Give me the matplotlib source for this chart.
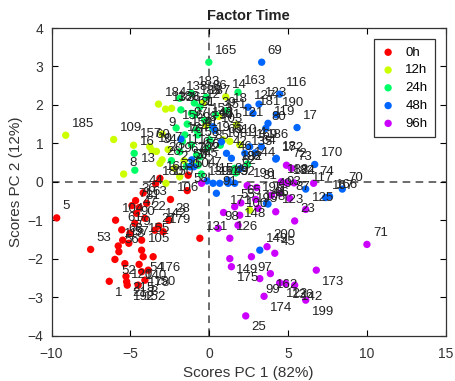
import matplotlib
matplotlib.use('Agg')
import matplotlib.pyplot as plt

plt.rcParams['font.family'] = ['Liberation Sans', 'DejaVu Sans']

# groups and R rainbow(5) colours
groups = ['0h', '12h', '24h', '48h', '96h']
colors = ['#FF0000', '#CCFF00', '#00FF66', '#0066FF', '#CC00FF']

# scores (PC1, PC2) and sample labels
x_0h = [-9.67, -7.52, -5.94, -4.67, -4.19, -3.97, -4.44, -4.61, -4.72, -4.08, -5.03, -3.45, -2.92,
        -5.49, -5.77, -5.73, -5.98, -5.35, -5.28, -5.24, -5.20, -6.34, -4.51, -4.08, -4.29, -4.29,
        -3.56, -4.19, -4.29, -3.87, -2.46, -1.34, -1.40, -3.13, -3.40, -0.60, -3.20, -4.90, -5.55,
        -2.56, -4.45, -5.10]
y_0h = [-0.94, -1.76, -1.00, -0.49, -0.29, -0.56, -0.67, -0.82, -1.08, -0.95, -1.34, -1.26, -1.30,
        -1.52, -1.67, -1.82, -2.02, -2.13, -2.46, -2.60, -2.69, -2.59, -2.69, -2.56, -1.52, -1.78,
        -1.95, -1.95, -2.34, -2.30, -0.46, 0.17, -0.23, 0.09, -0.05, -1.47, -1.15, -0.62, -1.25,
        -1.00, -2.15, -1.60]
lab_0h = ['5', '53', '104', '36', '44', '63', '81', '47', '90', '22', '79', '27', '179',
          '68', '118', '56', '52', '120', '215', '213', '192', '1', '152', '3', '155', '105',
          '176', '54', '178', '150', '106', '50', '58', '160', '180', '131', '142', '71', '61',
          '28', '140', '57']

x_12h = [-9.10, -6.06, -4.80, -3.62, -5.43, -3.22, -2.77, -2.39, -2.99, -2.99, -2.61, -1.87, -3.13,
         -2.75, -3.77, -3.35, 1.04, -0.22, 1.72, 1.93, 2.56, 0.87, -2.20, -1.60, -0.40, 0.60, 1.30,
         -1.00]
y_12h = [1.21, 1.10, 0.95, 0.81, 0.20, 2.02, 1.89, 1.91, 1.24, 0.57, 0.84, 0.13, 0.48,
         -0.04, 0.91, 0.79, 2.21, 1.48, 1.48, 0.96, -0.74, 1.09, 0.35, 0.55, 2.05, 1.70, 1.05,
         0.50]
lab_12h = ['185', '109', '157', '10', '8', '184', '132', '188', '9', '20', '7', '30', '26',
           '150', '60', '34', '14', '143', '121', '114', '195', '75', '2', '67', '187', '151', '110',
           '4']

x_24h = [-0.03, 1.82, -1.80, -1.13, -1.13, -0.81, -1.13, -0.60, -4.76, -4.72, -1.87, -0.60, -0.73,
         0.03, -1.87, -0.81, -0.09, -0.92, -1.55, -0.71, 1.61, 2.42, 1.68, -1.40, -0.30, 0.40,
         -2.10, -1.45, -0.50, 0.70, 1.10, -0.95, -0.20, -1.70, -2.40, 0.20]
y_24h = [3.11, 2.33, 1.87, 2.30, 1.78, 1.35, 0.96, 0.65, 0.74, 0.30, 2.17, 1.95, 1.22,
         1.09, 0.78, 0.70, 0.88, 1.74, 1.22, 0.43, 0.35, 0.46, 0.23, 1.50, 1.60, 1.75,
         1.40, 0.40, 0.20, 0.95, 1.85, 2.05, 2.20, 1.05, 0.55, 1.40]
lab_24h = ['165', '163', '36', '183', '61', '98', '158', '56', '16', '13', '138', '12', '41',
           '19', '111', '67', '85', '31', '159', '45', '182', '144', '62', '97', '153', '39',
           '156', '57', '47', '168', '18', '189', '86', '76', '29', '94']

x_48h = [3.32, 4.46, 5.56, 6.68, 8.43, 7.37, 7.62, 6.11, 4.21, 3.72, 3.15, 3.72, 3.58, 3.30,
         2.46, 2.77, 0.24, 0.35, 4.25, 2.56, 2.25, 1.40, 1.09, 0.77, 1.19, 0.24, 0.66, 1.19,
         1.61, 0.45, -0.15, 3.62, 3.20, -1.80, -1.11, -0.98, -1.23, 4.25, 2.00, 2.90]
y_48h = [3.11, 2.28, 1.41, 0.45, -0.19, -0.41, -0.38, -0.19, 0.59, -0.58, 2.02, 1.52, 1.39, 0.91,
         1.94, 1.78, 1.43, 1.34, 1.74, 0.91, 0.74, 0.61, 0.74, 1.04, 0.04, -0.04, -0.04, -0.04,
         -0.04, -0.30, 0.02, -0.56, -1.78, 1.11, 0.57, 0.39, 0.39, 0.61, 0.35, 0.75]
lab_48h = ['69', '116', '17', '170', '70', '167', '166', '117', '172', '96', '123', '119', '80', '186',
           '127', '181', '101', '103', '190', '169', '135', '46', '42', '66', '89', '15', '11', '43',
           '92', '91', '115', '41', '149', '124', '102', '6', '37', '18', '88', '64']

x_96h = [4.89, 5.20, 5.37, 4.89, 6.61, 6.11, 5.41, 3.94, 4.21, 3.09, 2.94, 1.93, 1.82, 0.56,
         1.30, 1.30, 1.40, 2.67, 3.66, 4.15, 3.87, 3.20, 3.47, 2.31, 4.84, 5.41, 6.11, 6.78,
         4.46, 9.99, 5.09, 4.57, -0.49, 2.40, 1.61, 3.00, 4.50, 2.00, 0.90]
y_96h = [0.43, 0.35, -0.03, -0.03, -0.04, -0.72, -1.02, -0.35, -0.78, -0.69, -0.46, -0.87, -1.13,
         -1.21, -1.47, -2.00, -2.21, -1.95, -1.69, -1.86, -2.39, -2.52, -2.98, -3.49, -2.65,
         -2.69, -3.08, -2.30, -2.63, -1.63, -0.43, 0.00, -0.04, -0.10, -0.65, -0.15, -0.30,
         -0.55, -0.80]
lab_96h = ['72', '73', '24', '182', '74', '125', '23', '49', '123', '108', '195', '100', '148',
           '98', '126', '149', '175', '97', '200', '45', '162', '99', '174', '25', '136', '142',
           '199', '173', '122', '71', '87', '188', '139', '196', '55', '31', '93', '65', '171']

xs_all = [x_0h, x_12h, x_24h, x_48h, x_96h]
ys_all = [y_0h, y_12h, y_24h, y_48h, y_96h]
labs_all = [lab_0h, lab_12h, lab_24h, lab_48h, lab_96h]

fig = plt.figure(figsize=(4.55, 3.81), dpi=100)
ax = fig.add_axes([0.1132, 0.1194, 0.8670, 0.8071])

ax.axhline(0, color='#444444', lw=1.1, ls=(0, (5, 3.5)), zorder=1)
ax.axvline(0, color='#444444', lw=1.1, ls=(0, (5, 3.5)), zorder=1)

for g, c, xs, ys in zip(groups, colors, xs_all, ys_all):
    ax.scatter(xs, ys, s=28, c=c, edgecolors='none', zorder=2, label=g)

# sample numbers next to the points
for xs, ys, labs in zip(xs_all, ys_all, labs_all):
    for x, y, t in zip(xs, ys, labs):
        dy = -0.3 if y < -1.9 else 0.3
        ax.text(x + 0.38, y + dy, t, fontsize=9.5, color='#222222',
                ha='left', va='center', zorder=3)

ax.set_xlim(-10, 15)
ax.set_ylim(-4, 4)
ax.set_xticks([-10, -5, 0, 5, 10, 15])
ax.set_yticks([-4, -3, -2, -1, 0, 1, 2, 3, 4])
ax.tick_params(direction='in', top=True, right=True, length=4, width=0.8,
               labelsize=10, labelcolor='#333333')
ax.tick_params(axis='x', pad=8)
ax.tick_params(axis='y', pad=6)
for sp in ax.spines.values():
    sp.set_linewidth(0.9)
    sp.set_color('#333333')

ax.set_title('Factor Time', fontsize=10.5, fontweight='bold', pad=6, color='#222222')
ax.set_xlabel('Scores PC 1 (82%)', fontsize=11, color='#333333', labelpad=4)
ax.set_ylabel('Scores PC 2 (12%)', fontsize=11, color='#333333', labelpad=3)

leg = ax.legend(loc='upper right', fontsize=9.5, frameon=True, fancybox=False,
                edgecolor='#333333', framealpha=1, labelspacing=0.42,
                handlelength=1.0, handletextpad=0.8, borderpad=0.55,
                borderaxespad=0.85, scatterpoints=1)
leg.get_frame().set_linewidth(0.9)

fig.savefig('out.png', dpi=100)
